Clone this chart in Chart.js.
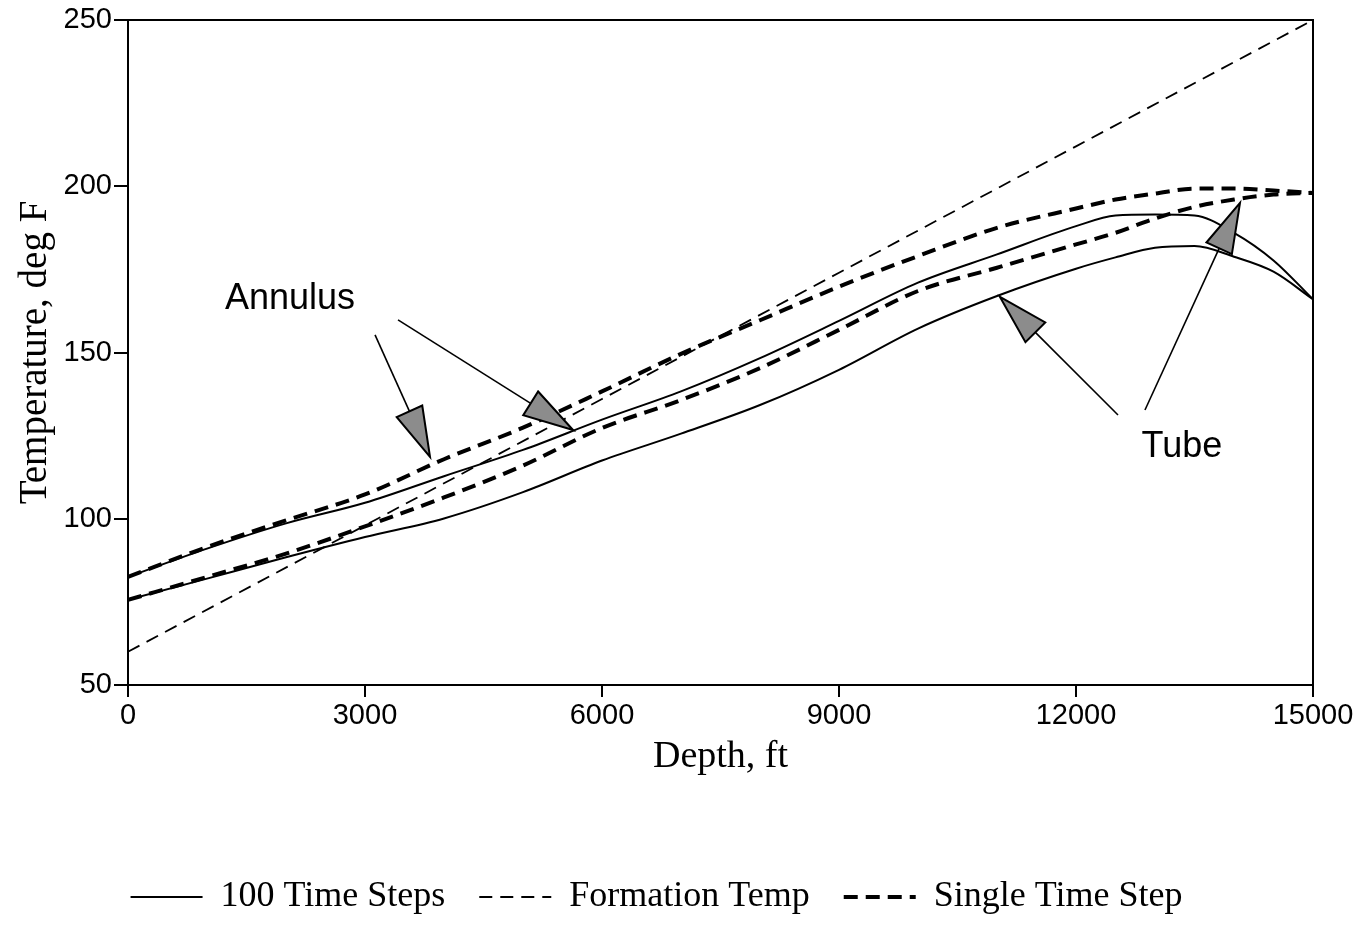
<!DOCTYPE html>
<html>
<head>
<meta charset="utf-8">
<script src="https://cdn.jsdelivr.net/npm/chart.js@4/dist/chart.umd.min.js"></script>
<style>
  body { margin: 0; background: #fff; }
  canvas { display: block; }
</style>
</head>
<body>
<canvas id="temp-chart" width="1364" height="925"></canvas>
<script>
// depth stations (ft) used by the four computed profiles
const depths = [0, 1000, 2000, 3000, 4000, 5000, 6000, 7000, 8000, 9000, 10000, 11000, 12000, 12500, 13000, 13500, 14000, 14500, 15000];

// temperatures, deg F
const annulus100 = [82.5, 91, 98.6, 104.8, 112.8, 120.7, 129.8, 138.3, 148.3, 159.5, 171, 179.5, 188, 191.2, 191.5, 191.2, 186, 177.7, 166];
const tube100 = [75.6, 82, 88.4, 94.5, 100.1, 108, 117.5, 125.6, 134.2, 144.8, 157.2, 167, 175.2, 178.6, 181.5, 182, 178.8, 174.3, 166];
const annulusSingle = [82.5, 91.5, 99.5, 107.3, 117.9, 127.4, 138.3, 149.6, 159.7, 169.8, 179, 187.5, 193.3, 196, 197.8, 199.3, 199.3, 198.7, 198];
const tubeSingle = [75.6, 82.5, 89.5, 97.7, 106.4, 116, 127.3, 135.7, 145.3, 156.8, 168.5, 175.5, 182.5, 186, 190.3, 193.8, 196, 197.5, 198];

const formationDepths = [0, 3000, 6000, 9000, 12000, 15000];
const formationTemp = [60, 98, 136, 174, 212, 250];

const xTickLabels = ['0', '3000', '6000', '9000', '12000', '15000'];
const yTickLabels = ['50', '100', '150', '200', '250'];

function pts(xs, ys) {
  return xs.map((x, i) => ({ x: x, y: ys[i] }));
}

// arrows + labels, given in data units
const notes = [
  { text: 'Annulus', x: 2050, y: 166 },
  { text: 'Tube', x: 13340, y: 121.5 }
];
const arrows = [
  { from: [3127, 155.3], to: [3823, 118.6] },
  { from: [3418, 159.8], to: [5633, 126.7] },
  { from: [12532, 131.2], to: [11038, 166.7] },
  { from: [12873, 132.7], to: [14076, 195] }
];

const framePlugin = {
  id: 'frame',
  afterDatasetsDraw(chart) {
    const { ctx, chartArea: a, scales } = chart;
    const sx = scales.x, sy = scales.y;
    ctx.save();
    ctx.strokeStyle = '#000';
    ctx.lineWidth = 2;
    ctx.strokeRect(a.left, a.top, a.right - a.left, a.bottom - a.top);

    // arrows
    arrows.forEach(ar => {
      const x0 = sx.getPixelForValue(ar.from[0]), y0 = sy.getPixelForValue(ar.from[1]);
      const x1 = sx.getPixelForValue(ar.to[0]), y1 = sy.getPixelForValue(ar.to[1]);
      const ang = Math.atan2(y1 - y0, x1 - x0);
      const len = 50, half = 14;
      const bx = x1 - Math.cos(ang) * len, by = y1 - Math.sin(ang) * len;
      ctx.lineWidth = 1.6;
      ctx.beginPath();
      ctx.moveTo(x0, y0);
      ctx.lineTo(bx, by);
      ctx.stroke();
      ctx.beginPath();
      ctx.moveTo(x1, y1);
      ctx.lineTo(bx + Math.sin(ang) * half, by - Math.cos(ang) * half);
      ctx.lineTo(bx - Math.sin(ang) * half, by + Math.cos(ang) * half);
      ctx.closePath();
      ctx.fillStyle = '#8c8c8c';
      ctx.fill();
      ctx.lineWidth = 2;
      ctx.stroke();
    });

    ctx.fillStyle = '#000';
    ctx.font = '36px "Liberation Sans", Arial, sans-serif';
    ctx.textAlign = 'center';
    ctx.textBaseline = 'middle';
    notes.forEach(n => {
      ctx.fillText(n.text, sx.getPixelForValue(n.x), sy.getPixelForValue(n.y));
    });
    ctx.restore();
  }
};

const ctx = document.getElementById('temp-chart').getContext('2d');
new Chart(ctx, {
  type: 'line',
  data: {
    datasets: [
      {
        label: '100 Time Steps',
        data: pts(depths, annulus100),
        borderColor: '#000',
        borderWidth: 2,
        pointRadius: 0,
        cubicInterpolationMode: 'monotone'
      },
      {
        label: 'Formation Temp',
        data: pts(formationDepths, formationTemp),
        borderColor: '#000',
        borderWidth: 1.8,
        borderDash: [13, 8],
        pointRadius: 0,
        tension: 0
      },
      {
        label: 'Single Time Step',
        data: pts(depths, annulusSingle),
        borderColor: '#000',
        borderWidth: 4,
        borderDash: [14, 8],
        pointRadius: 0,
        cubicInterpolationMode: 'monotone'
      },
      {
        label: 'Tube 100',
        data: pts(depths, tube100),
        borderColor: '#000',
        borderWidth: 2,
        pointRadius: 0,
        cubicInterpolationMode: 'monotone'
      },
      {
        label: 'Tube single',
        data: pts(depths, tubeSingle),
        borderColor: '#000',
        borderWidth: 4,
        borderDash: [14, 8],
        pointRadius: 0,
        cubicInterpolationMode: 'monotone'
      }
    ]
  },
  options: {
    responsive: false,
    animation: false,
    layout: { padding: { top: 20, right: 51, bottom: 0, left: 0 } },
    plugins: {
      tooltip: { enabled: false },
      legend: {
        position: 'bottom',
        labels: {
          filter: (item) => item.datasetIndex < 3,
          generateLabels: (chart) => {
            const items = Chart.defaults.plugins.legend.labels.generateLabels(chart);
            items.forEach(it => {
              const ds = chart.data.datasets[it.datasetIndex];
              it.lineDash = ds.borderDash || [];
              it.lineWidth = ds.borderWidth;
              it.strokeStyle = '#000';
            });
            return items;
          },
          usePointStyle: true,
          pointStyle: 'line',
          pointStyleWidth: 72,
          padding: 34,
          color: '#000',
          font: { family: '"Liberation Serif", "Times New Roman", serif', size: 36 }
        }
      }
    },
    scales: {
      x: {
        type: 'linear',
        min: 0,
        max: 15000,
        afterFit: (scale) => { scale.height = 160; },
        ticks: {
          stepSize: 3000,
          padding: 2,
          color: '#000',
          font: { family: '"Liberation Sans", Arial, sans-serif', size: 29 },
          callback: (v, i) => xTickLabels[i]
        },
        grid: { drawOnChartArea: false, tickLength: 12, color: '#000', lineWidth: 2 },
        border: { color: '#000', width: 2 },
        title: {
          display: true,
          text: 'Depth, ft',
          color: '#000',
          padding: { top: 0, bottom: 65 },
          font: { family: '"Liberation Serif", "Times New Roman", serif', size: 38 }
        }
      },
      y: {
        min: 50,
        max: 250,
        afterFit: (scale) => { scale.width = 128; },
        ticks: {
          stepSize: 50,
          padding: 2,
          color: '#000',
          font: { family: '"Liberation Sans", Arial, sans-serif', size: 29 },
          callback: (v, i) => yTickLabels[i]
        },
        grid: { drawOnChartArea: false, tickLength: 14, color: '#000', lineWidth: 2 },
        border: { color: '#000', width: 2 },
        title: {
          display: true,
          text: 'Temperature, deg F',
          color: '#000',
          padding: { top: 12, bottom: 0 },
          font: { family: '"Liberation Serif", "Times New Roman", serif', size: 39 }
        }
      }
    }
  },
  plugins: [framePlugin]
});
</script>
</body>
</html>
